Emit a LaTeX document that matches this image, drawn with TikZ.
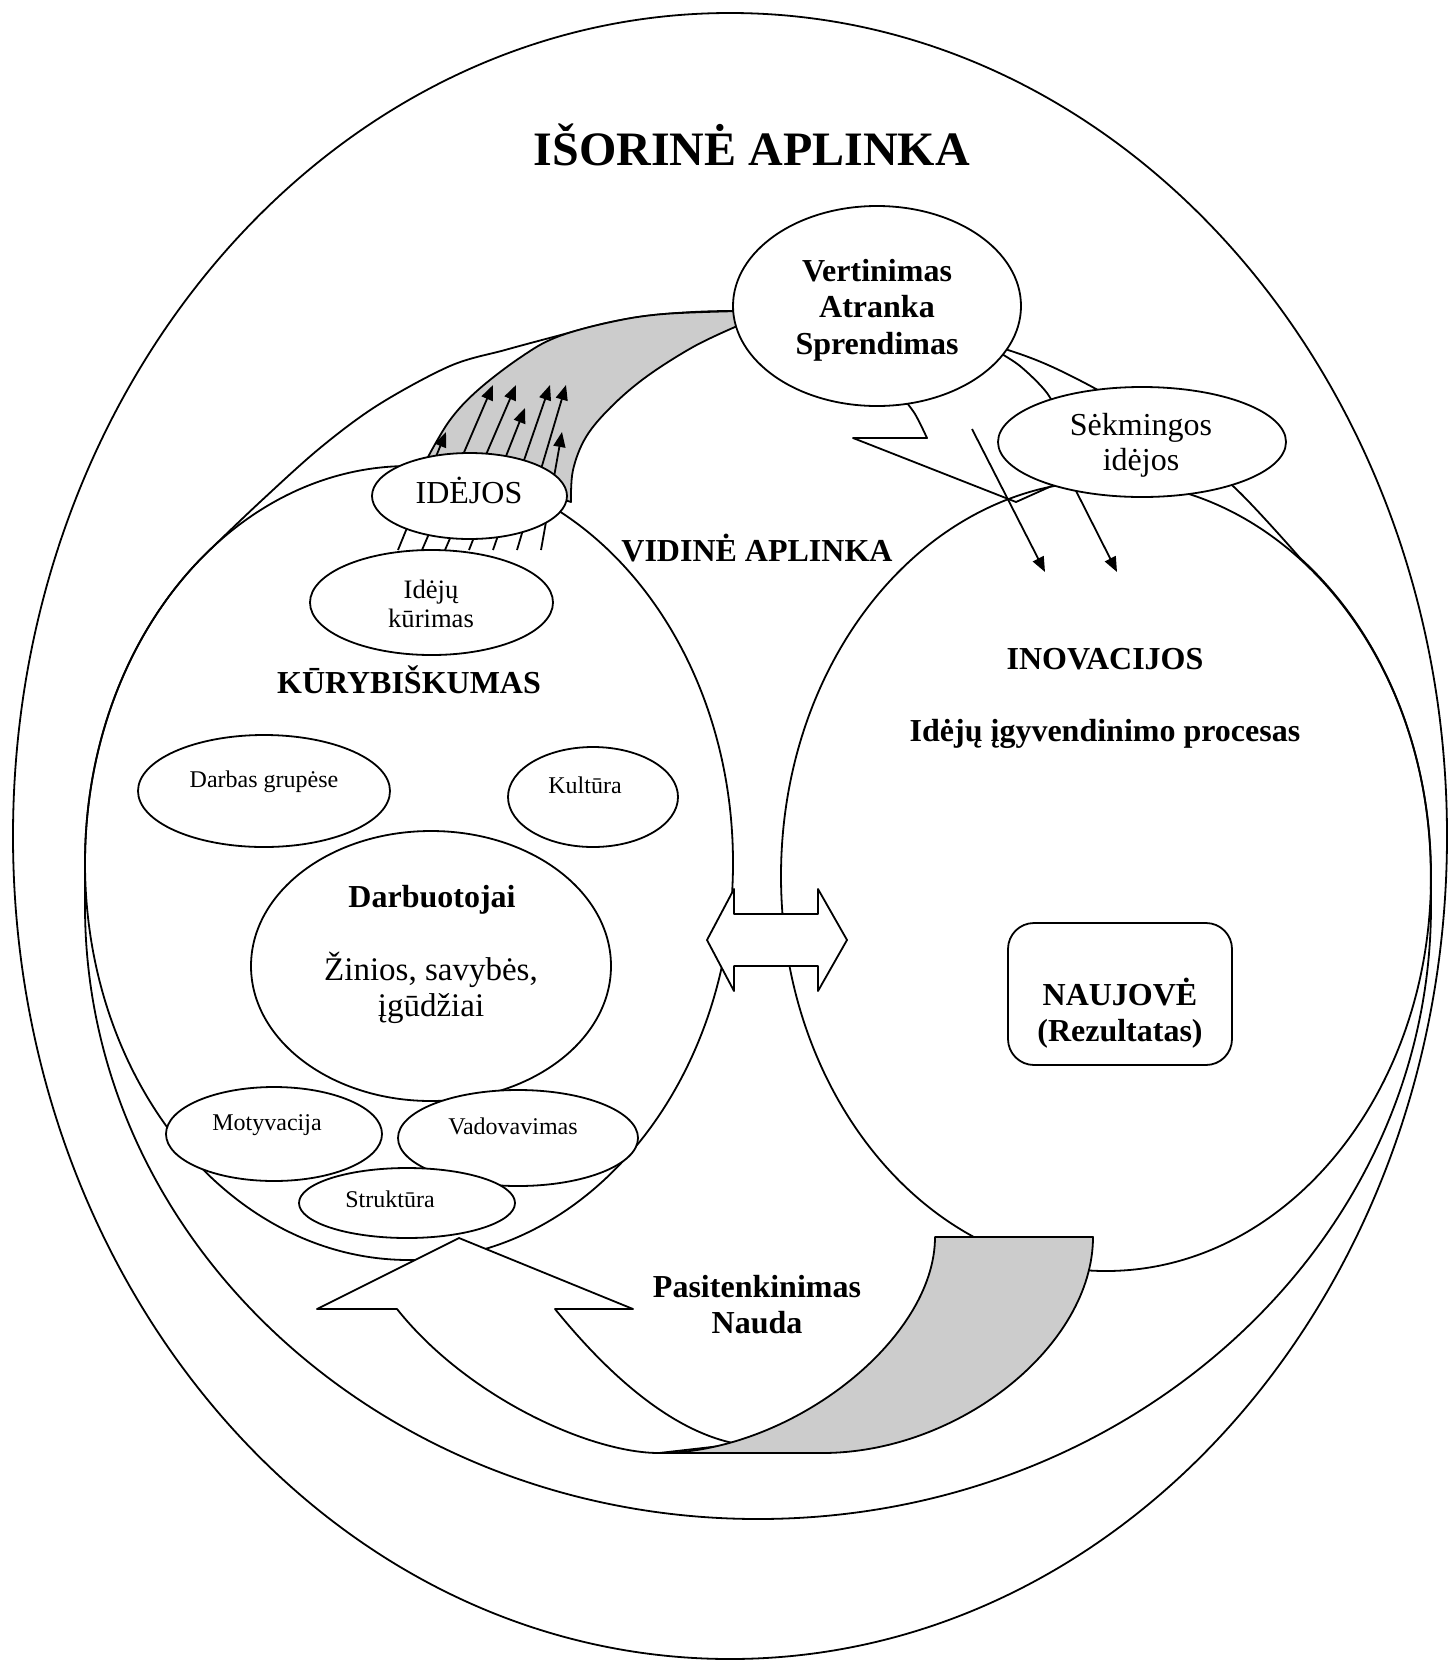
\documentclass[tikz,border=0pt]{standalone}
\usepackage{fontspec}
\setmainfont{Liberation Serif}
\usetikzlibrary{shapes.geometric, arrows.meta}
\definecolor{shade}{RGB}{204,204,204}
\begin{document}
\begin{tikzpicture}[x=0.5pt, y=-0.5pt, line width=0.9pt, line join=round,
  every node/.style={inner sep=0pt, outer sep=0pt},
  ring/.style={draw, ellipse},
  oval/.style={draw, ellipse, fill=white},
  band/.style={draw, fill=shade},
  lbl/.style={anchor=base, align=center},
  big/.style={lbl, font=\fontsize{24}{28}\selectfont\bfseries},
  head/.style={lbl, font=\fontsize{16}{18.5}\selectfont\bfseries},
  body/.style={lbl, font=\fontsize{16}{18.5}\selectfont},
  bodyL/.style={lbl, font=\fontsize{16.5}{19}\selectfont},
  mid/.style={lbl, font=\fontsize{13.3}{15}\selectfont},
  small/.style={lbl, font=\fontsize{12}{14}\selectfont},
  idea/.style={-{Triangle[length=7.5pt, width=6pt]}},
]
\useasboundingbox (0,0) rectangle (1448,1660);

% external environment
\node[ring, minimum width=717pt, minimum height=823pt] (outer) at (730,836) {};

% internal environment outline
\draw (85,906) -- (85,863)
  arc[start angle=180, end angle=128, x radius=162pt, y radius=198.5pt]
  -- plot[smooth, tension=0.55] coordinates {(209.5,550.2) (260,502) (320,448) (378,405) (450,366) (505,350) (557,336) (611,322) (664,314) (742,311) (877,316) (1008,350) (1081,381) (1160,428) (1234,487) (1300,558)}
  arc[start angle=53.3, end angle=0, x radius=162.5pt, y radius=197.5pt]
  -- (1431,906)
  arc[start angle=0, end angle=-180, x radius=336.5pt, y radius=306.5pt] -- cycle;

% creativity and innovation circles
\node[ring, minimum width=324pt, minimum height=397pt] (kurybiskumas) at (409,863) {};
\node[ring, minimum width=325pt, minimum height=395pt] (inovacijos) at (1106,876) {};

% upper curved band (ideas rising)
\filldraw[band] plot[smooth, tension=0.6] coordinates {(428,457) (450,420) (478,390) (521,357) (557,337) (611,322) (664,314) (742,311)}
  -- (742,327)
  -- plot[smooth, tension=0.6] coordinates {(735,327) (693,347) (646,377) (611,407) (586,437) (573,470) (571,502)}
  -- cycle;

% idea arrows
\foreach \a/\b/\c/\d [count=\i] in {398/550/446/432, 422/550/493/385, 445/550/516/385, 469/550/525/408, 493/550/550/385, 517/550/566/385, 541/550/562/432}{
  \coordinate (s\i) at (\a,\b);
  \coordinate (e\i) at (\c,\d);
  \draw[idea] (s\i) -- (e\i);
}

\node[oval, minimum width=97.5pt, minimum height=43pt] (idejos) at (469.5,496) {};
\node[oval, minimum width=121.5pt, minimum height=52.5pt] (kurimas) at (431.5,602.5) {};

% front of the upper arrow, coming down from the decision
\draw plot[smooth] coordinates {(900,394) (915,414) (927,438)} -- (853,438) -- (1016,502) -- (1105,462) -- (1066,428)
  -- plot[smooth] coordinates {(1066,428) (1047,393) (1020,366) (995,350)};

\node[oval, minimum width=144pt, minimum height=100pt] (vert) at (877,306) {};

\coordinate (d1s) at (972,429);  \coordinate (d1e) at (1045,572);
\coordinate (d2s) at (1070,479); \coordinate (d2e) at (1117,572);
\draw[idea] (d1s) -- (d1e);
\draw[idea] (d2s) -- (d2e);

\node[oval, minimum width=144pt, minimum height=55pt] (sekm) at (1142,442) {};

% exchange between the two circles
\filldraw[fill=white] (707,940) -- (734,889) -- (734,914) -- (818,914) -- (818,889) -- (847,940)
  -- (818,991) -- (818,966) -- (734,966) -- (734,991) -- cycle;

% factors of creativity
\node[oval, minimum width=126pt, minimum height=56pt] (darbas) at (264,791) {};
\node[oval, minimum width=85pt, minimum height=50pt] (kultura) at (593,797) {};
\node[oval, minimum width=180pt, minimum height=135pt] (darbuot) at (431,966) {};
\node[oval, minimum width=108pt, minimum height=47pt] (motyv) at (274,1134) {};
\node[oval, minimum width=120pt, minimum height=48pt] (vadov) at (518,1138) {};
\node[oval, minimum width=108pt, minimum height=35pt] (strukt) at (407,1203) {};

% lower curved arrow (satisfaction, benefit)
\filldraw[fill=white] (659,1453) .. controls (590,1453) and (467,1397) .. (397,1309)
  -- (317,1309) -- (459,1238) -- (633,1309) -- (555,1309)
  .. controls (590,1352) and (660,1430) .. (738,1444) -- cycle;
\filldraw[band] (935,1237) -- (1093,1237)
  .. controls (1093,1345) and (960,1453) .. (822,1453)
  -- (659,1453)
  .. controls (790,1453) and (935,1340) .. (935,1237) -- cycle;

% result
\node[draw, rounded corners=13pt, minimum width=112pt, minimum height=71pt] (naujove) at (1120,994) {};

% labels
\node[big] (tIsor) at (752,165) {IŠORINĖ APLINKA};
\node[head] (tVert) at (877,281) {Vertinimas};
\node[head] (tAtr) at (877,317) {Atranka};
\node[head] (tSpr) at (877,354) {Sprendimas};
\node[body] (tSek) at (1141,435) {Sėkmingos};
\node[body] (tSek2) at (1141,470) {idėjos};
\node[body] (tIdej) at (469,503) {IDĖJOS};
\node[mid] (tKur1) at (431,598) {Idėjų};
\node[mid] (tKur2) at (431,627) {kūrimas};
\node[head] (tKurb) at (409,693) {KŪRYBIŠKUMAS};
\node[head] (tVid) at (757,561) {VIDINĖ APLINKA};
\node[head] (tInov) at (1105,669) {INOVACIJOS};
\node[head] (tProc) at (1105,741) {Idėjų įgyvendinimo procesas};
\node[small] (tDarb) at (264,787) {Darbas grupėse};
\node[small] (tKult) at (585,793) {Kultūra};
\node[head] (tDarbuot) at (432,907) {Darbuotojai};
\node[bodyL] (tZin) at (431,980) {Žinios, savybės,};
\node[bodyL] (tIgud) at (431,1016) {įgūdžiai};
\node[small] (tMot) at (267,1130) {Motyvacija};
\node[small] (tVad) at (513,1134) {Vadovavimas};
\node[small] (tStr) at (390,1207) {Struktūra};
\node[head] (tNauj) at (1120,1005) {NAUJOVĖ};
\node[head] (tRez) at (1120,1041) {(Rezultatas)};
\node[head] (tPas) at (757,1297) {Pasitenkinimas};
\node[head] (tNaud) at (757,1333) {Nauda};
\end{tikzpicture}
\end{document}
